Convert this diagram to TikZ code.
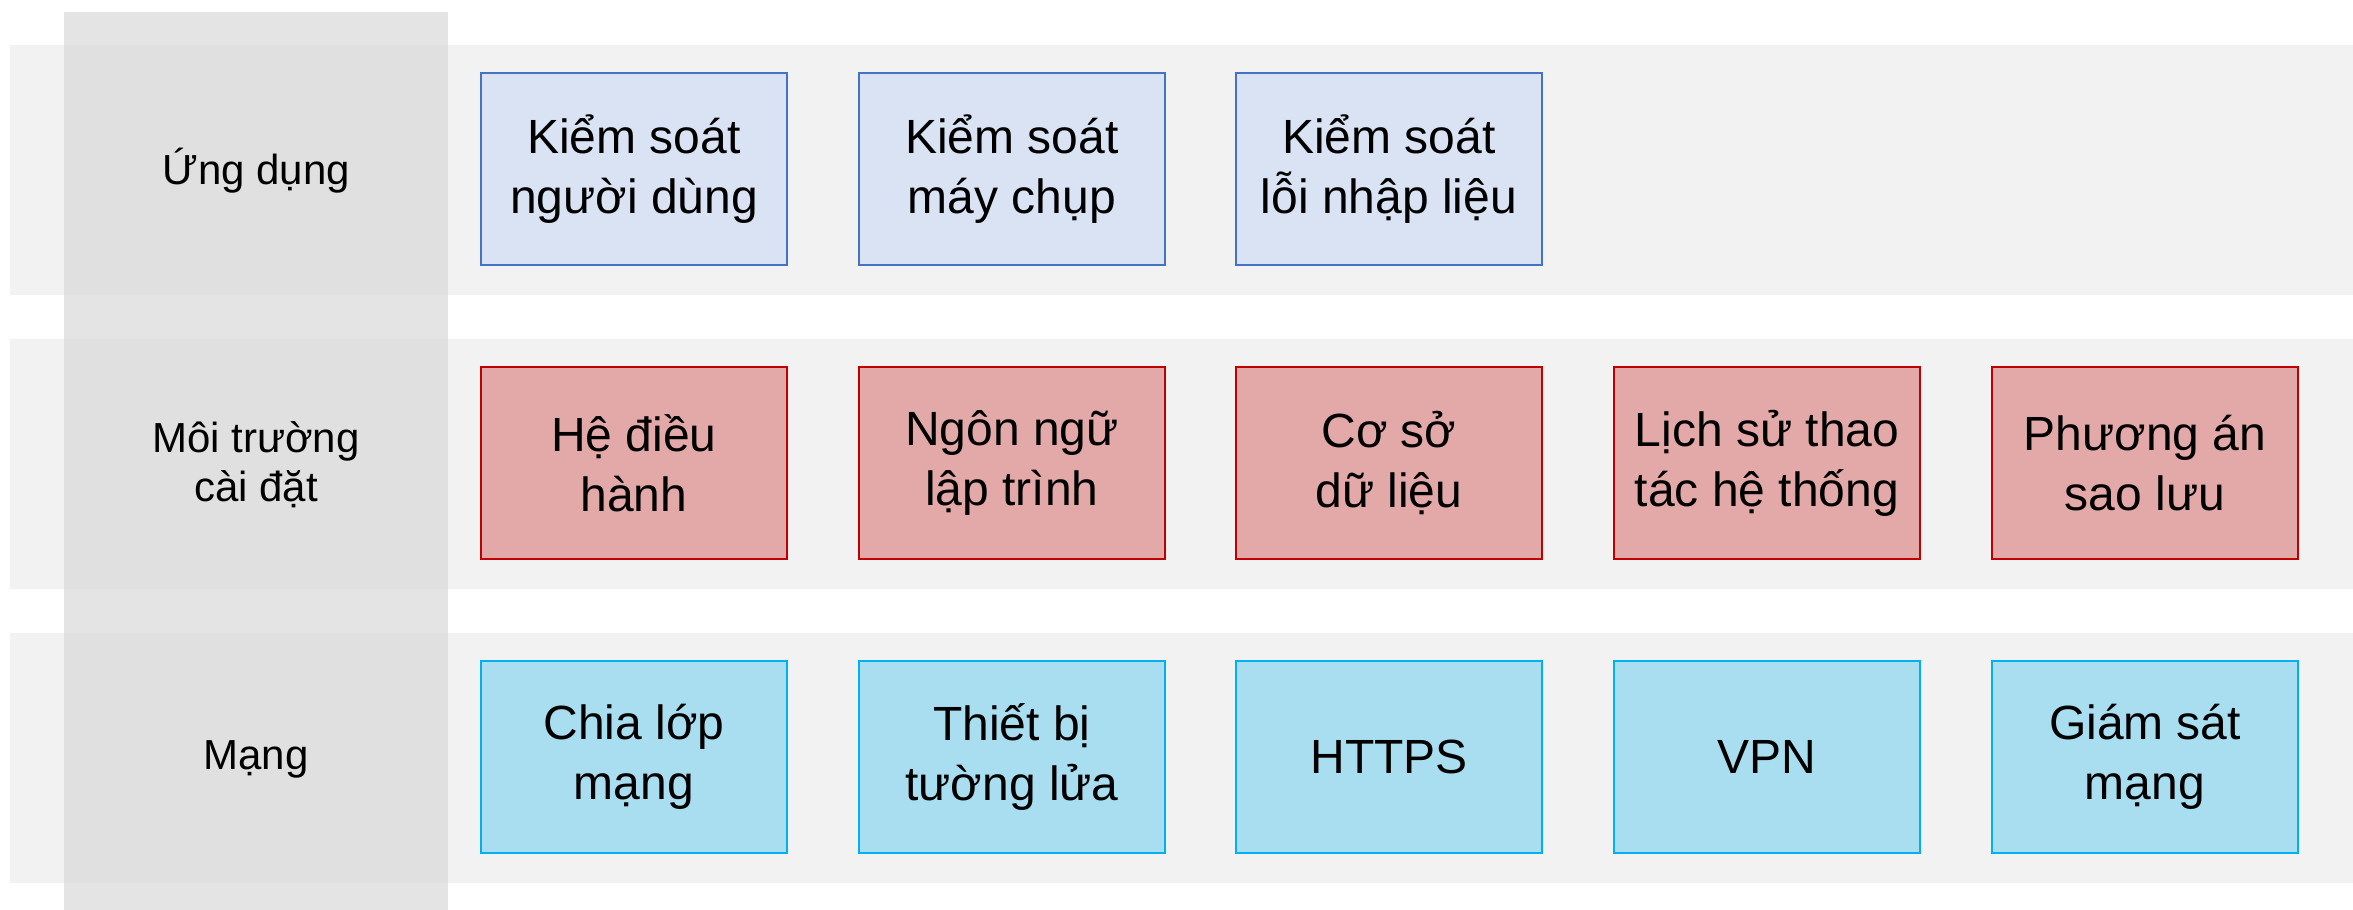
\documentclass[tikz,border=0pt]{standalone}
\usepackage{fontspec}
\setmainfont{Liberation Sans}
\definecolor{bandgray}{HTML}{F2F2F2}
\definecolor{colgray}{HTML}{E4E4E4}
\definecolor{overgray}{HTML}{E0E0E0}
\definecolor{appfill}{HTML}{DAE3F3}
\definecolor{appline}{HTML}{4472C4}
\definecolor{envfill}{HTML}{E3A9A9}
\definecolor{envline}{HTML}{C00000}
\definecolor{netfill}{HTML}{A9DEF0}
\definecolor{netline}{HTML}{00B0F0}
\tikzset{
  item/.style={rectangle, draw, line width=2.5pt, minimum width=306pt, minimum height=192pt,
    align=center, font=\fontsize{48}{60}\selectfont, inner sep=0pt},
  appbox/.style={item, fill=appfill, draw=appline},
  envbox/.style={item, fill=envfill, draw=envline},
  netbox/.style={item, fill=netfill, draw=netline},
  layerlabel/.style={align=center, font=\fontsize{42}{49}\selectfont, inner sep=0pt}
}
\begin{document}
\begin{tikzpicture}[x=1pt, y=-1pt]
\useasboundingbox (0,0) rectangle (2353,910);
% horizontal layer bands
\foreach \t in {45, 339, 633} {
  \fill[bandgray] (10,\t) rectangle (2353,\t+250);
}
% vertical label column, darker where it crosses a band
\fill[colgray] (64,12) rectangle (448,910);
\foreach \t in {45, 339, 633} {
  \fill[overgray] (64,\t) rectangle (448,\t+250);
}
% layer names
\node[layerlabel] (lapp) at (256,171) {Ứng dụng};
\node[layerlabel] (lenv) at (256,465) {Môi trường\\cài đặt};
\node[layerlabel] (lnet) at (256,759) {Mạng};
% application layer
\node[appbox] (a1) at (634,169) {Kiểm soát\\người dùng};
\node[appbox] (a2) at (1012,169) {Kiểm soát\\máy chụp};
\node[appbox] (a3) at (1389,169) {Kiểm soát\\lỗi nhập liệu};
% environment layer
\node[envbox] (e1) at (634,463) {Hệ điều\\hành};
\node[envbox] (e2) at (1012,463) {Ngôn ngữ\\lập trình};
\node[envbox] (e3) at (1389,463) {Cơ sở\\dữ liệu};
\node[envbox] (e4) at (1767,463) {Lịch sử thao\\tác hệ thống};
\node[envbox] (e5) at (2145,463) {Phương án\\sao lưu};
% network layer
\node[netbox] (n1) at (634,757) {Chia lớp\\mạng};
\node[netbox] (n2) at (1012,757) {Thiết bị\\tường lửa};
\node[netbox] (n3) at (1389,757) {HTTPS};
\node[netbox] (n4) at (1767,757) {VPN};
\node[netbox] (n5) at (2145,757) {Giám sát\\mạng};
\end{tikzpicture}
\end{document}
